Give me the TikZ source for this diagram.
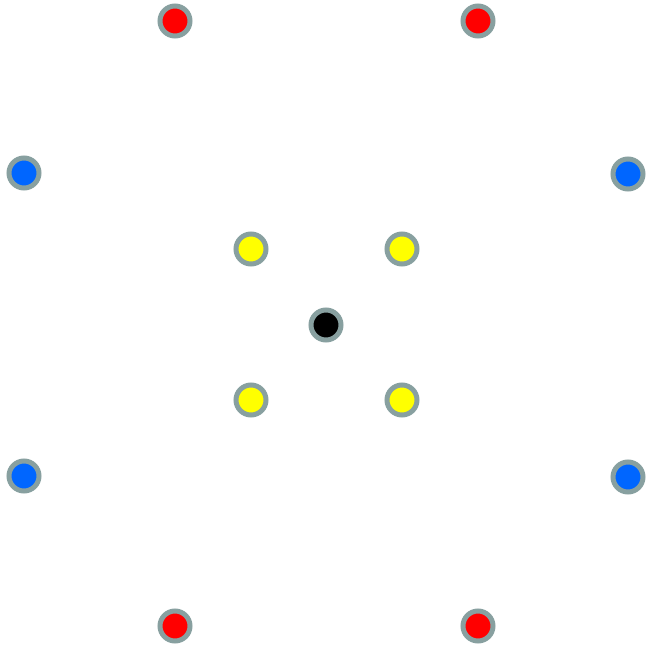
\documentclass[tikz,border=0pt]{standalone}
\definecolor{ringgray}{HTML}{88A0A0}
\definecolor{dotred}{HTML}{FF0000}
\definecolor{dotblue}{HTML}{0066FF}
\definecolor{dotyellow}{HTML}{FFFF00}
\tikzset{
  dot/.style={circle, draw=ringgray, line width=5pt, minimum size=30pt, inner sep=0pt},
  reddot/.style={dot, fill=dotred},
  bluedot/.style={dot, fill=dotblue},
  yellowdot/.style={dot, fill=dotyellow},
  blackdot/.style={dot, fill=black}
}
\begin{document}
\begin{tikzpicture}[x=1pt, y=-1pt]
\useasboundingbox (0,0) rectangle (645,647);
\node[reddot] (r1) at (175,21) {};
\node[reddot] (r2) at (478,21) {};
\node[reddot] (r3) at (175,626) {};
\node[reddot] (r4) at (478,626) {};
\node[bluedot] (b1) at (24,173) {};
\node[bluedot] (b2) at (628,174) {};
\node[bluedot] (b3) at (24,476) {};
\node[bluedot] (b4) at (628,477) {};
\node[yellowdot] (y1) at (251,249) {};
\node[yellowdot] (y2) at (402,249) {};
\node[yellowdot] (y3) at (251,400) {};
\node[yellowdot] (y4) at (402,400) {};
\node[blackdot] (c) at (326,325) {};
\end{tikzpicture}
\end{document}
